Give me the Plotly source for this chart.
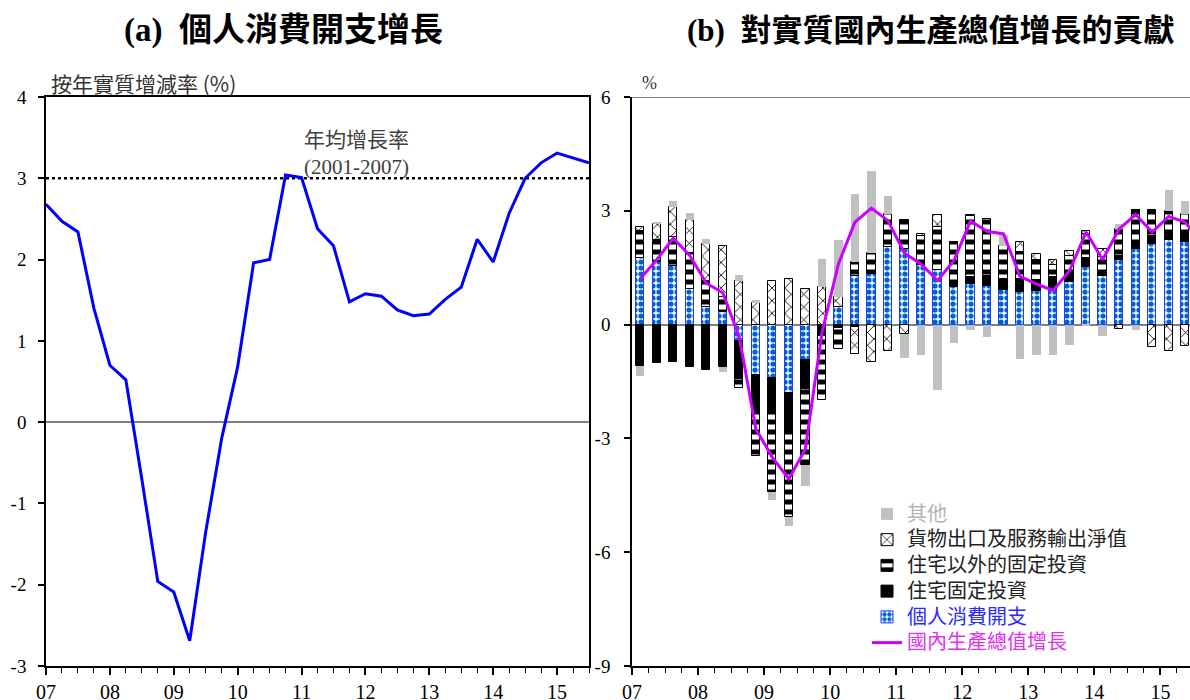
import plotly.graph_objects as go

# ---------------- data ----------------
quarters = [f"{y}Q{q}" for y in range(2007, 2016) for q in range(1, 5)][:35]
year_ticks = [2007, 2008, 2009, 2010, 2011, 2012, 2013, 2014, 2015]
year_text = ["07", "08", "09", "10", "11", "12", "13", "14", "15"]
left_yticks = [-3, -2, -1, 0, 1, 2, 3, 4]
left_ytext = ["-3", "-2", "-1", "0", "1", "2", "3", "4"]
right_yticks = [-9, -6, -3, 0, 3, 6]
right_ytext = ["-9", "-6", "-3", "0", "3", "6"]

# (a) personal consumption expenditure, year-on-year real growth (%)
pce_growth = [2.68, 2.47, 2.34, 1.40, 0.70, 0.52, -0.70, -1.96, -2.09, -2.69,
              -1.35, -0.20, 0.68, 1.96, 2.00, 3.04, 3.01, 2.38, 2.17, 1.48,
              1.58, 1.55, 1.38, 1.31, 1.33, 1.51, 1.66, 2.25, 1.97, 2.57,
              3.00, 3.19, 3.31, 3.25, 3.19]
avg_growth_2001_2007 = 3.0

# (b) contributions to real GDP growth (percentage points)
contrib_pce = [1.76, 1.65, 1.54, 0.94, 0.46, 0.33, -0.42, -1.32, -1.42, -1.81,
               -0.93, 0.00, 0.46, 1.29, 1.34, 2.04, 2.00, 1.58, 1.44, 0.99,
               1.06, 1.03, 0.90, 0.85, 0.88, 0.90, 1.12, 1.51, 1.29, 1.71,
               2.00, 2.13, 2.22, 2.17, 2.14]
contrib_res = [-1.10, -1.02, -0.99, -1.11, -1.19, -1.13, -1.01, -0.99, -0.94, -1.07,
               -0.77, -0.30, -0.10, -0.05, 0.00, 0.00, 0.00, 0.00, 0.00, 0.10,
               0.20, 0.25, 0.30, 0.35, 0.30, 0.35, 0.30, 0.25, 0.10, 0.10,
               0.15, 0.20, 0.25, 0.30, 0.30]
contrib_nonres = [0.72, 0.57, 0.76, 0.94, 0.70, 0.39, -0.24, -1.15, -2.04, -2.20,
                  -2.00, -1.70, -0.55, 0.35, 0.54, 0.88, 0.76, 0.75, 1.13, 1.08,
                  1.59, 1.51, 0.88, 0.71, 0.53, 0.33, 0.40, 0.63, 0.39, 0.71,
                  0.88, 0.70, 0.52, 0.45, 0.26]
contrib_netexp = [0.10, 0.44, 0.81, 0.88, 0.97, 1.34, 1.16, 0.58, 1.14, 1.21,
                  0.94, 1.00, 0.26, -0.73, -0.99, -0.69, -0.25, 0.06, 0.31, 0.00,
                  0.03, 0.00, 0.00, 0.26, 0.15, 0.11, 0.13, 0.09, 0.22, -0.12,
                  0.00, -0.59, -0.69, -0.57, 0.00]
contrib_other = [-0.26, 0.03, 0.15, 0.18, 0.13, -0.13, 0.15, 0.08, -0.23, -0.22,
                 -0.55, 0.73, 1.50, 1.79, 2.17, 0.48, -0.63, -0.79, -1.72, -0.48,
                 -0.15, -0.33, 0.27, -0.90, -0.79, -0.79, -0.53, -0.04, -0.29, 0.12,
                 -0.13, 0.00, 0.55, 0.35, -0.60]
gdp_growth = [1.21, 1.71, 2.28, 1.82, 1.09, 0.84, -0.33, -2.75, -3.50, -4.07,
              -3.28, -0.22, 1.60, 2.70, 3.07, 2.74, 1.88, 1.60, 1.16, 1.69,
              2.73, 2.46, 2.39, 1.27, 1.07, 0.90, 1.42, 2.44, 1.71, 2.52,
              2.90, 2.44, 2.85, 2.70, 2.15]


def qpos(label, offset=0.0):
    return int(label[:4]) + (int(label[-1]) - 1) * 0.25 + offset


x_line = [qpos(q) for q in quarters]             # points on quarter ticks
x_bar = [qpos(q, 0.125) for q in quarters]       # bars centred in quarter slot
minor_vals = [qpos(q) for q in quarters]

SERIF = "Liberation Serif, Times New Roman, Noto Sans CJK TC"
CJK = "Noto Sans CJK TC, Liberation Serif"

W, H = 1190, 700


def px(xp):
    return xp / W


def py(yp):
    return (H - yp) / H


def lg(text, color):
    return f"<span style='color:{color};font-size:20px'>{text}</span>"


fig = go.Figure()

# ---------------- panel (a) ----------------
fig.add_trace(go.Scatter(x=[2007, 2015.5], y=[avg_growth_2001_2007] * 2,
                         mode="lines", line=dict(color="black", width=2.5, dash="dot"),
                         showlegend=False, hoverinfo="skip", xaxis="x", yaxis="y"))
fig.add_trace(go.Scatter(x=x_line, y=pce_growth, mode="lines",
                         line=dict(color="#0000FF", width=3),
                         showlegend=False, xaxis="x", yaxis="y"))

# ---------------- panel (b) ----------------
bar_w = 0.125
fig.add_trace(go.Bar(x=x_bar, y=contrib_pce, width=bar_w, xaxis="x2", yaxis="y2",
                     name=lg("個人消費開支", "#2B2BFF"), legendrank=5,
                     marker=dict(color="white", line=dict(color="#1F3FFF", width=1),
                                 pattern=dict(shape=".", fgcolor="#0062CC", bgcolor="white",
                                              size=6, solidity=0.6, fillmode="replace"))))
fig.add_trace(go.Bar(x=x_bar, y=contrib_res, width=bar_w, xaxis="x2", yaxis="y2",
                     name=lg("住宅固定投資", "#222222"), legendrank=4,
                     marker=dict(color="black", line=dict(color="black", width=1))))
fig.add_trace(go.Bar(x=x_bar, y=contrib_nonres, width=bar_w, xaxis="x2", yaxis="y2",
                     name=lg("住宅以外的固定投資", "#222222"), legendrank=3,
                     marker=dict(color="white", line=dict(color="black", width=1),
                                 pattern=dict(shape="-", fgcolor="black", bgcolor="white",
                                              size=10, solidity=0.5, fillmode="replace"))))
fig.add_trace(go.Bar(x=x_bar, y=contrib_netexp, width=bar_w, xaxis="x2", yaxis="y2",
                     name=lg("貨物出口及服務輸出淨值", "#222222"), legendrank=2,
                     marker=dict(color="white", line=dict(color="black", width=1),
                                 pattern=dict(shape="x", fgcolor="black", bgcolor="white",
                                              size=9, solidity=0.18, fillmode="replace"))))
fig.add_trace(go.Bar(x=x_bar, y=contrib_other, width=bar_w, xaxis="x2", yaxis="y2",
                     name=lg("其他", "#B4B4B4"), legendrank=1,
                     marker=dict(color="#C0C0C0", line=dict(width=0))))
fig.add_trace(go.Scatter(x=x_bar, y=gdp_growth, mode="lines", xaxis="x2", yaxis="y2",
                         name=lg("國內生產總值增長", "#E030F0"), legendrank=6,
                         line=dict(color="#CC00FF", width=3)))

# ---------------- layout ----------------
ydom = [py(666), py(97)]

xcommon = dict(tickvals=year_ticks, ticktext=year_text, ticks="outside", ticklen=7,
               tickwidth=1.5, tickcolor="black", showline=True, linecolor="black",
               linewidth=1.5, showgrid=False, zeroline=False, automargin=False,
               tickfont=dict(family=SERIF, size=20, color="black"),
               minor=dict(tickvals=minor_vals, ticks="outside", ticklen=5,
                          tickcolor="black", tickwidth=1))
ycommon = dict(ticks="outside", ticklen=6, tickcolor="black", tickwidth=1.5,
               showline=True, linecolor="black", linewidth=1.5, automargin=False,
               showgrid=False, zeroline=True, zerolinecolor="#808080", zerolinewidth=1.5,
               tickfont=dict(family=SERIF, size=19, color="black"))

fig.update_layout(
    width=W, height=H,
    margin=dict(l=0, r=0, t=0, b=0, autoexpand=False),
    paper_bgcolor="white", plot_bgcolor="white",
    barmode="relative", bargap=0,
    showlegend=True,
    xaxis=dict(domain=[px(46), px(589)], anchor="y", range=[2007, 2015.5],
               mirror=True, **xcommon),
    yaxis=dict(domain=ydom, anchor="x", range=[-3, 4], tickvals=left_yticks,
               ticktext=left_ytext, mirror=True, ticklabelstandoff=8, **ycommon),
    xaxis2=dict(domain=[px(632), 1.0], anchor="y2", range=[2007, 2015.448], **xcommon),
    yaxis2=dict(domain=ydom, anchor="x2", range=[-9, 6], tickvals=right_yticks,
                ticktext=right_ytext, ticklabelstandoff=10, **ycommon),
    legend=dict(x=px(867), y=py(496), xanchor="left", yanchor="top",
                bgcolor="rgba(0,0,0,0)", itemwidth=30, tracegroupgap=0,
                font=dict(family=CJK, size=17.5, color="#222222")),
    shapes=[dict(type="line", xref="x2 domain", yref="y2", x0=0, x1=1, y0=6, y1=6,
                 line=dict(color="#808080", width=2))],
    annotations=[
        dict(text="<b>(a)  個人消費開支增長</b>", x=px(283), y=py(31),
             xref="paper", yref="paper", showarrow=False, xanchor="center", yanchor="middle",
             font=dict(family=SERIF, size=33, color="black")),
        dict(text="<b>(b)  對實質國內生產總值增長的貢獻</b>", x=px(930), y=py(31),
             xref="paper", yref="paper", showarrow=False, xanchor="center", yanchor="middle",
             font=dict(family=SERIF, size=31, color="black")),
        dict(text="按年實質增減率 (%)", x=px(49), y=py(83), xref="paper",
             yref="paper", showarrow=False, xanchor="left", yanchor="middle",
             font=dict(family=CJK, size=21, color="#333333")),
        dict(text="%", x=px(640), y=py(83), xref="paper", yref="paper",
             showarrow=False, xanchor="left", yanchor="middle",
             font=dict(family=SERIF, size=18, color="#333333")),
        dict(text="年均增長率<br>(2001-2007)", x=px(302), y=py(154),
             xref="paper", yref="paper", showarrow=False, xanchor="left", yanchor="middle",
             align="left", font=dict(family=SERIF, size=21, color="#404040")),
    ],
)

fig.write_html(
    "out.html",
    config={"displayModeBar": False},
    post_script="document.body.style.margin='0';document.body.style.overflow='hidden';",
)
